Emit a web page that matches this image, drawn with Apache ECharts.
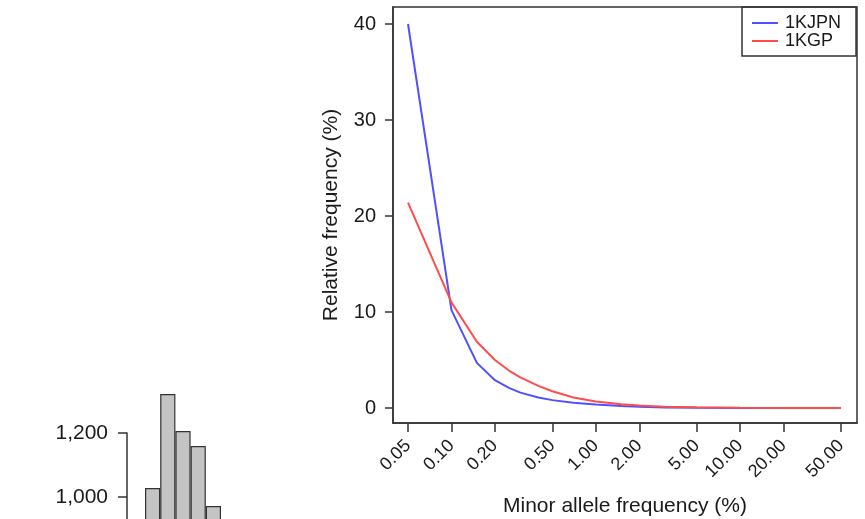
<!DOCTYPE html>
<html>
<head>
<meta charset="utf-8">
<script src="https://cdn.jsdelivr.net/npm/echarts@6/dist/echarts.min.js"></script>
<style>
  html, body { margin: 0; padding: 0; background: #fff; }
  #chart { width: 865px; height: 519px; }
</style>
</head>
<body>
<div id="chart"></div>
<script>
// minor allele frequency bins (%)
const mafBins = [0.05, 0.1, 0.15, 0.2, 0.25, 0.3, 0.4, 0.5, 0.7, 1, 1.5, 2, 3, 5, 10, 20, 50]
const jpnValues = [40, 10.2, 4.7, 2.9, 2.1, 1.6, 1.1, 0.82, 0.55, 0.36, 0.2, 0.12, 0.06, 0.03, 0.01, 0, 0]
const kgpValues = [21.4, 11.0, 6.9, 5.0, 3.9, 3.2, 2.3, 1.75, 1.1, 0.68, 0.4, 0.26, 0.14, 0.07, 0.03, 0.01, 0]
const xTicks = [0.05, 0.1, 0.2, 0.5, 1, 2, 5, 10, 20, 50]
const yTicks = [0, 10, 20, 30, 40]

// partial histogram at bottom left (cropped panel)
const histBins = ['1', '2', '3', '4', '5']
const histValues = [1028, 1322, 1206, 1159, 972]
const histTicks = [1000, 1200]

const font = 'Liberation Sans'
const ink = '#1a1a1a'

const myChart = echarts.init(document.getElementById('chart'))

const zip = (xs, ys) => xs.map((x, i) => [x, ys[i]])

const option = {
  animation: false,
  textStyle: { fontFamily: font, color: ink },
  legend: {
    left: 742,
    top: 7,
    orient: 'vertical',
    padding: [7, 15, 6, 10],
    itemGap: 0,
    itemWidth: 26,
    itemHeight: 2,
    icon: 'rect',
    borderColor: '#333',
    borderWidth: 1.5,
    textStyle: { fontFamily: font, fontSize: 18, lineHeight: 17, color: ink, padding: [0, 0, 0, 2] },
    data: ['1KJPN', '1KGP']
  },
  grid: [
    {
      left: 393,
      top: 7,
      right: 8,
      bottom: 96,
      outerBoundsMode: 'none',
      show: true,
      borderColor: '#333',
      borderWidth: 1.5
    },
    {
      left: 145,
      top: 433,
      width: 76,
      bottom: -42,
      outerBoundsMode: 'none'
    }
  ],
  xAxis: [
    {
      gridIndex: 0,
      type: 'log',
      min: 0.03935,
      max: 64.5,
      name: 'Minor allele frequency (%)',
      nameLocation: 'middle',
      nameGap: 73,
      nameTextStyle: { fontFamily: font, fontSize: 21, color: ink },
      axisLine: { show: true, onZero: false, lineStyle: { color: '#333', width: 1.5 } },
      axisTick: { show: true, customValues: xTicks, length: 9, lineStyle: { color: '#333', width: 1.5 } },
      axisLabel: {
        customValues: xTicks,
        rotate: 45,
        margin: 20,
        fontFamily: font,
        fontSize: 18,
        color: ink,
        formatter: (v) => Number(v).toFixed(2)
      },
      splitLine: { show: false },
      minorTick: { show: false }
    },
    {
      gridIndex: 1,
      type: 'category',
      data: histBins,
      show: false
    }
  ],
  yAxis: [
    {
      gridIndex: 0,
      type: 'value',
      min: -1.5625,
      max: 41.77,
      name: 'Relative frequency (%)',
      nameLocation: 'middle',
      nameGap: 51,
      nameTextStyle: { fontFamily: font, fontSize: 21, color: ink },
      axisLine: { show: true, onZero: false, lineStyle: { color: '#333', width: 1.5 } },
      axisTick: { show: true, customValues: yTicks, length: 8, lineStyle: { color: '#333', width: 1.5 } },
      axisLabel: { customValues: yTicks, margin: 17, fontFamily: font, fontSize: 20, color: ink },
      splitLine: { show: false }
    },
    {
      gridIndex: 1,
      type: 'value',
      min: 800,
      max: 1200,
      interval: 200,
      offset: 18,
      axisLine: { show: true, lineStyle: { color: '#333', width: 1.5 } },
      axisTick: { show: true, customValues: histTicks, length: 9, lineStyle: { color: '#333', width: 1.5 } },
      axisLabel: {
        customValues: histTicks,
        margin: 19,
        fontFamily: font,
        fontSize: 21,
        color: ink,
        formatter: (v) => v.toLocaleString('en-US')
      },
      splitLine: { show: false }
    }
  ],
  series: [
    {
      name: '1KJPN',
      type: 'line',
      xAxisIndex: 0,
      yAxisIndex: 0,
      symbol: 'none',
      lineStyle: { color: '#5050ff', width: 2 },
      itemStyle: { color: '#5050ff' },
      data: zip(mafBins, jpnValues)
    },
    {
      name: '1KGP',
      type: 'line',
      xAxisIndex: 0,
      yAxisIndex: 0,
      symbol: 'none',
      lineStyle: { color: '#ff4d4d', width: 2 },
      itemStyle: { color: '#ff4d4d' },
      data: zip(mafBins, kgpValues)
    },
    {
      type: 'bar',
      xAxisIndex: 1,
      yAxisIndex: 1,
      barCategoryGap: 0,
      clip: false,
      itemStyle: { color: '#c4c4c4', borderColor: '#333', borderWidth: 1.2 },
      data: histValues
    }
  ]
}

myChart.setOption(option)
</script>
</body>
</html>
